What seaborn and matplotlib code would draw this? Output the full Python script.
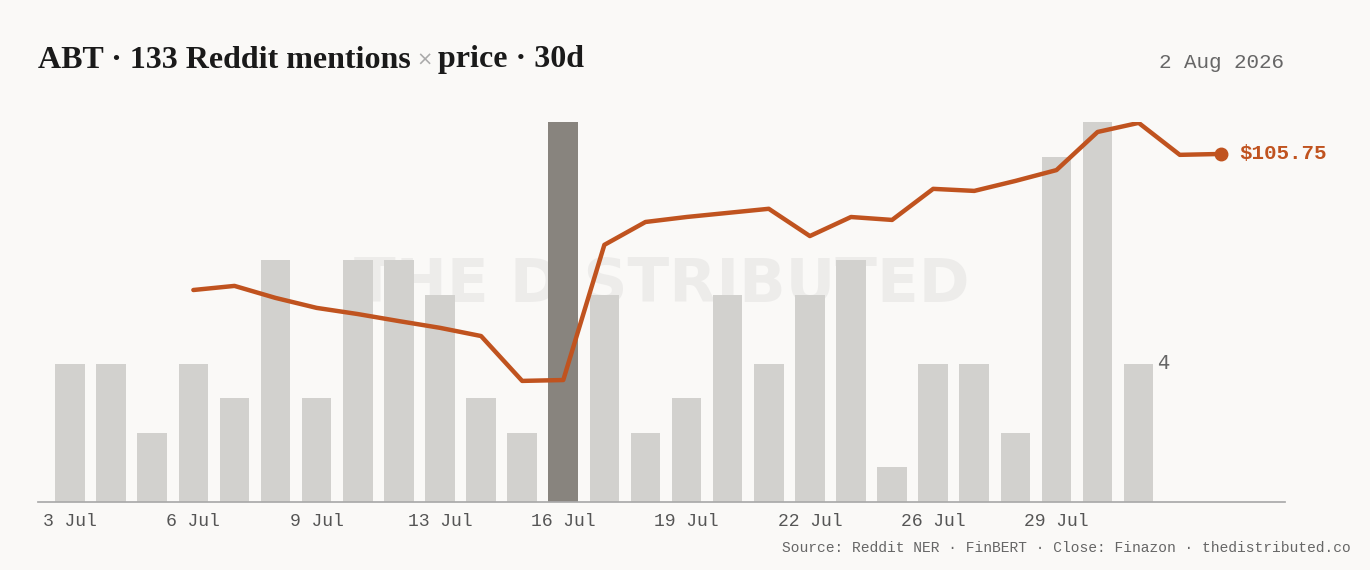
import matplotlib
matplotlib.use("Agg")
import matplotlib.pyplot as plt
import seaborn as sns
import pandas as pd
import numpy as np

mentions = [4,4,2,4,3,7,3,7,7,6,3,2,11,6,2,3,6,4,6,7,1,4,4,2,10,11,4]
tick_pos = [0,3,6,9,12,15,18,21,24]
tick_labels = ["3 Jul","6 Jul","9 Jul","13 Jul","16 Jul","19 Jul","22 Jul","26 Jul","29 Jul"]
price_start = 3
prices = [101.11,101.25,100.84,100.50,100.29,100.05,99.82,99.54,98.01,98.04,
          102.65,103.43,103.60,103.74,103.88,102.95,103.60,103.50,104.56,104.49,
          104.83,105.20,106.50,106.81,105.72,105.75]
highlight = 12

BG = "#faf9f7"
sns.set_theme(style="white")
plt.rcParams["font.family"] = ["DejaVu Sans"]

fig = plt.figure(figsize=(13.7, 5.7), dpi=100, facecolor=BG)
ax = fig.add_axes([38/1370, 1-502/570, (1285-38)/1370, 380/570])
ax.set_facecolor(BG)

ax.text(0.5, 0.57, "THE DISTRIBUTED", transform=ax.transAxes, ha="center", va="center",
        fontsize=44, fontweight="bold", color="#999", alpha=0.13, zorder=0)

df = pd.DataFrame({"i": range(len(mentions)), "n": mentions,
                   "h": ["hi" if k == highlight else "lo" for k in range(len(mentions))]})
sns.barplot(data=df, x="i", y="n", hue="h", palette={"lo": "#d3d1cd", "hi": "#8a847c"},
            width=0.72, dodge=False, legend=False, ax=ax, native_scale=True,
            linewidth=0, edgecolor="none")
ax.set_xlim(-0.78, 29.56)
ax.set_ylim(0, 11)
ax.set_xlabel(""); ax.set_ylabel("")
ax.set_yticks([])
ax.set_xticks(tick_pos)
ax.set_xticklabels(tick_labels, family="Liberation Mono", fontsize=13, color="#555")
ax.tick_params(axis="x", length=0, pad=8)
for s in ["top", "right", "left"]:
    ax.spines[s].set_visible(False)
ax.spines["bottom"].set_color("#aaa")
ax.text(len(mentions)-1+0.45, mentions[-1], "4", fontsize=14, color="#666", va="center")

ax2 = ax.twinx()
xs = list(range(price_start, price_start+len(prices)))
sns.lineplot(x=xs, y=prices, ax=ax2, color="#c0531f", lw=3.2)
ax2.plot(xs[-1], prices[-1], "o", color="#c0531f", ms=9)
ax2.set_ylim(93.88, 106.84)
ax2.set_yticks([])
ax2.set_xlim(-0.78, 29.56)
for s in ax2.spines.values():
    s.set_visible(False)
ax2.text(xs[-1]+0.45, prices[-1], f"${prices[-1]:.2f}", fontsize=15, color="#c0531f",
         fontweight="bold", family="Liberation Mono", va="center")

y_t = 1-60/570
t1 = fig.text(38/1370, y_t, "ABT · 133 Reddit mentions", family="Liberation Serif",
              fontweight="bold", fontsize=23, va="center", color="#1a1a1a")
t2 = ax.annotate("×", xy=(1, 0.5), xycoords=t1, xytext=(4, 0), textcoords="offset points",
                 fontsize=14, va="center", color="#aaa", annotation_clip=False)
ax.annotate("price · 30d", xy=(1, 0.5), xycoords=t2, xytext=(4, 0), textcoords="offset points",
            family="Liberation Serif", fontweight="bold", fontsize=23, va="center",
            color="#1a1a1a", annotation_clip=False)
fig.text(1284/1370, 1-63/570, "2 Aug 2026", family="Liberation Mono", fontsize=15,
         ha="right", va="center", color="#666")
fig.text(1351/1370, 1-548/570, "Source: Reddit NER · FinBERT · Close: Finazon · thedistributed.co",
         family="Liberation Mono", fontsize=10.5, ha="right", va="center", color="#666")

fig.savefig("out.png", dpi=100, facecolor=BG)
